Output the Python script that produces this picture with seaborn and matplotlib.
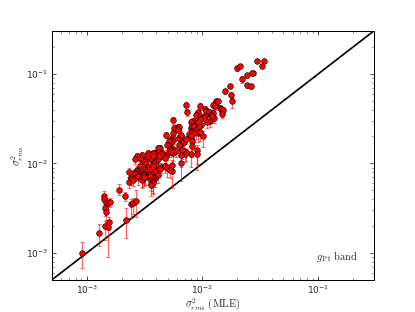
import numpy as np
import pandas as pd
import matplotlib
matplotlib.use('Agg')
import matplotlib.pyplot as plt
import seaborn as sns

# ------------------------------------------
# data (sigma^2_rms MLE vs sigma^2_rms)
# err_lo / err_hi are fractional (relative) error bars
# ------------------------------------------
# bright end
x_top = [0.0298, 0.034, 0.0329, 0.0272, 0.0266, 0.0244, 0.0197, 0.021, 0.0218, 0.0244,
         0.0263, 0.0172, 0.0155, 0.0177, 0.0181]
y_top = [0.139, 0.139, 0.123, 0.103, 0.102, 0.0967, 0.116, 0.121, 0.088, 0.0754,
         0.0736, 0.0736, 0.0647, 0.0574, 0.0493]
lo_top = [0.05, 0.05, 0.06, 0.05, 0.05, 0.06, 0.06, 0.05, 0.10, 0.08,
          0.08, 0.06, 0.07, 0.12, 0.15]
hi_top = [0.05, 0.05, 0.05, 0.05, 0.05, 0.05, 0.05, 0.05, 0.08, 0.06,
          0.06, 0.05, 0.06, 0.08, 0.08]

# main cloud
x_mid = [0.0072, 0.0074, 0.0095, 0.0091, 0.0088, 0.0095, 0.0105, 0.0108, 0.0113, 0.0123,
         0.0132, 0.0135, 0.0128, 0.0142, 0.0145, 0.0151, 0.0147, 0.0123, 0.0118, 0.0106,
         0.0099, 0.0103, 0.0115, 0.011, 0.0126, 0.012, 0.0097, 0.0082, 0.0079, 0.0080,
         0.0081, 0.0085, 0.0096, 0.0093, 0.0092, 0.0088, 0.0077, 0.0081, 0.0084, 0.0092,
         0.0095, 0.0101, 0.0079, 0.0081, 0.0081, 0.0090, 0.0089, 0.0079, 0.0072, 0.0071,
         0.0065, 0.0063, 0.0065, 0.0068, 0.0069, 0.0072, 0.0063, 0.0067, 0.0056, 0.0057,
         0.0061, 0.0063, 0.0062, 0.0065, 0.0056, 0.0055, 0.0057, 0.0054, 0.0054, 0.0056,
         0.0051, 0.0050, 0.0049, 0.0052, 0.0053, 0.0049, 0.0048, 0.0047, 0.0054, 0.0054,
         0.0065, 0.0065, 0.0059, 0.0048, 0.0043, 0.0041, 0.0041, 0.0041, 0.0045, 0.0044,
         0.0042, 0.0040, 0.0044, 0.0047, 0.0049, 0.0052, 0.0039, 0.0043, 0.0041, 0.0039,
         0.0037, 0.0036, 0.0038, 0.0037, 0.0037, 0.0036, 0.0034, 0.0035, 0.0035, 0.0037,
         0.0033, 0.0031, 0.0032, 0.0030, 0.0030, 0.0029, 0.0029, 0.0031, 0.0034, 0.0033,
         0.0035, 0.0037, 0.0029, 0.0031, 0.0031, 0.0032, 0.0034, 0.0035, 0.0036, 0.0037,
         0.0037, 0.0036, 0.0027, 0.0026, 0.0027, 0.0027, 0.0027, 0.0028, 0.0028, 0.0026,
         0.0025, 0.0024, 0.0023, 0.0024, 0.0023, 0.0025, 0.0028, 0.0030, 0.0030, 0.0031]
y_mid = [0.0449, 0.0372, 0.0434, 0.0372, 0.035, 0.0336, 0.0408, 0.039, 0.038, 0.0449,
         0.0493, 0.0493, 0.0434, 0.042, 0.041, 0.040, 0.036, 0.037, 0.035, 0.0336,
         0.0319, 0.032, 0.030, 0.029, 0.032, 0.034, 0.0271, 0.030, 0.0288, 0.0249,
         0.026, 0.026, 0.031, 0.026, 0.0288, 0.0234, 0.0215, 0.0225, 0.0219, 0.0219,
         0.0225, 0.0201, 0.0201, 0.0177, 0.0156, 0.0141, 0.0129, 0.0129, 0.0134, 0.0129,
         0.0201, 0.019, 0.017, 0.0175, 0.0172, 0.0185, 0.0161, 0.0141, 0.0303, 0.0249,
         0.0255, 0.0253, 0.0234, 0.021, 0.022, 0.0193, 0.0185, 0.0177, 0.0148, 0.0132,
         0.0177, 0.0161, 0.016, 0.0145, 0.0138, 0.0129, 0.0120, 0.0115, 0.0097, 0.0082,
         0.0102, 0.0123, 0.0138, 0.0210, 0.0148, 0.015, 0.0135, 0.0112, 0.0130, 0.0128,
         0.0120, 0.0097, 0.0092, 0.0093, 0.0088, 0.0085, 0.0082, 0.0087, 0.0075, 0.0068,
         0.0071, 0.0073, 0.013, 0.0131, 0.0107, 0.0112, 0.0130, 0.0125, 0.0116, 0.0120,
         0.0120, 0.0115, 0.0104, 0.0123, 0.0109, 0.0115, 0.0094, 0.0087, 0.0092, 0.0085,
         0.0087, 0.0094, 0.0085, 0.0077, 0.0074, 0.0071, 0.0071, 0.0072, 0.0065, 0.0063,
         0.0060, 0.0058, 0.0122, 0.0111, 0.0084, 0.0082, 0.0077, 0.0078, 0.0074, 0.0079,
         0.0076, 0.0070, 0.0080, 0.0067, 0.0062, 0.0066, 0.0072, 0.0068, 0.0066, 0.0070]
lo_mid = [0.10, 0.08, 0.10, 0.08, 0.10, 0.10, 0.10, 0.10, 0.12, 0.10,
          0.08, 0.08, 0.10, 0.10, 0.10, 0.10, 0.10, 0.12, 0.12, 0.12,
          0.12, 0.12, 0.15, 0.15, 0.12, 0.12, 0.15, 0.10, 0.12, 0.15,
          0.15, 0.15, 0.12, 0.15, 0.12, 0.20, 0.15, 0.15, 0.20, 0.20,
          0.20, 0.25, 0.15, 0.20, 0.25, 0.30, 0.35, 0.30, 0.20, 0.20,
          0.12, 0.12, 0.15, 0.15, 0.15, 0.12, 0.15, 0.20, 0.08, 0.10,
          0.12, 0.12, 0.12, 0.15, 0.12, 0.12, 0.12, 0.12, 0.15, 0.20,
          0.12, 0.12, 0.12, 0.15, 0.15, 0.15, 0.15, 0.15, 0.20, 0.35,
          0.38, 0.25, 0.15, 0.08, 0.12, 0.12, 0.12, 0.15, 0.12, 0.12,
          0.15, 0.15, 0.15, 0.15, 0.20, 0.20, 0.15, 0.15, 0.20, 0.20,
          0.20, 0.20, 0.12, 0.12, 0.15, 0.15, 0.12, 0.12, 0.15, 0.12,
          0.15, 0.15, 0.15, 0.12, 0.15, 0.15, 0.15, 0.20, 0.20, 0.20,
          0.20, 0.20, 0.15, 0.20, 0.20, 0.20, 0.20, 0.20, 0.25, 0.25,
          0.25, 0.25, 0.10, 0.12, 0.15, 0.15, 0.15, 0.15, 0.15, 0.15,
          0.15, 0.15, 0.12, 0.15, 0.15, 0.15, 0.20, 0.20, 0.20, 0.20]
hi_mid = [0.08, 0.06, 0.08, 0.06, 0.08, 0.08, 0.08, 0.08, 0.08, 0.08,
          0.06, 0.06, 0.08, 0.08, 0.08, 0.08, 0.08, 0.08, 0.08, 0.08,
          0.08, 0.08, 0.10, 0.10, 0.08, 0.08, 0.10, 0.08, 0.08, 0.10,
          0.10, 0.10, 0.08, 0.10, 0.08, 0.12, 0.10, 0.10, 0.12, 0.12,
          0.12, 0.15, 0.10, 0.12, 0.15, 0.15, 0.15, 0.15, 0.12, 0.12,
          0.08, 0.08, 0.10, 0.10, 0.10, 0.08, 0.10, 0.12, 0.08, 0.08,
          0.08, 0.08, 0.08, 0.10, 0.08, 0.08, 0.08, 0.08, 0.10, 0.12,
          0.08, 0.08, 0.08, 0.10, 0.10, 0.10, 0.10, 0.10, 0.12, 0.15,
          0.15, 0.12, 0.10, 0.08, 0.08, 0.08, 0.08, 0.10, 0.08, 0.08,
          0.10, 0.10, 0.10, 0.10, 0.12, 0.12, 0.10, 0.10, 0.12, 0.12,
          0.12, 0.12, 0.08, 0.08, 0.10, 0.10, 0.08, 0.08, 0.10, 0.08,
          0.10, 0.10, 0.10, 0.08, 0.10, 0.10, 0.10, 0.12, 0.12, 0.12,
          0.12, 0.12, 0.10, 0.12, 0.12, 0.12, 0.12, 0.12, 0.15, 0.15,
          0.15, 0.15, 0.08, 0.08, 0.10, 0.10, 0.10, 0.10, 0.10, 0.10,
          0.10, 0.10, 0.10, 0.10, 0.10, 0.10, 0.12, 0.12, 0.12, 0.12]

# faint end
x_low = [0.00091, 0.00127, 0.0014, 0.00142, 0.00143, 0.00146, 0.00144, 0.00153, 0.00155,
         0.00148, 0.00152, 0.00159, 0.0019, 0.00216, 0.00218, 0.00243, 0.00249, 0.00268]
y_low = [0.00099, 0.00165, 0.0043, 0.0040, 0.0032, 0.0029, 0.0020, 0.00195, 0.00223,
         0.0037, 0.0036, 0.0037, 0.0051, 0.0043, 0.00234, 0.0035, 0.0036, 0.00385]
lo_low = [0.32, 0.28, 0.15, 0.15, 0.20, 0.20, 0.30, 0.54, 0.20,
          0.15, 0.15, 0.12, 0.12, 0.12, 0.37, 0.30, 0.25, 0.35]
hi_low = [0.34, 0.28, 0.15, 0.15, 0.15, 0.15, 0.15, 0.12, 0.12,
          0.12, 0.12, 0.12, 0.15, 0.12, 0.35, 0.15, 0.15, 0.30]

LIMS = (5e-4, 0.3)

# ------------------------------------------
# build table
# ------------------------------------------
df = pd.DataFrame({
    'mle': x_top + x_mid + x_low,
    'rms': y_top + y_mid + y_low,
    'lo': lo_top + lo_mid + lo_low,
    'hi': hi_top + hi_mid + hi_low,
})
yerr = np.vstack([df['rms'] * df['lo'], df['rms'] * df['hi']])

# ------------------------------------------
# style (old matplotlib look: ticks in, all sides)
# ------------------------------------------
sns.set_style('ticks')
plt.rcParams.update({
    'font.family': ['DejaVu Sans'],
    'xtick.direction': 'in', 'ytick.direction': 'in',
    'xtick.top': True, 'ytick.right': True,
    'xtick.major.size': 4, 'ytick.major.size': 4,
    'xtick.minor.size': 2, 'ytick.minor.size': 2,
    'xtick.labelsize': 9, 'ytick.labelsize': 9,
    'axes.linewidth': 1.0,
})

fig = plt.figure(figsize=(415 / 72, 312 / 72), dpi=72)
ax = fig.add_axes([0.125, 0.103, 0.775, 0.797])

ax.errorbar(df['mle'], df['rms'], yerr=yerr, fmt='none',
            ecolor=(1, 0, 0, 0.6), elinewidth=1.2, capsize=2, capthick=0.9, zorder=2)
sns.scatterplot(data=df, x='mle', y='rms', ax=ax, color='red', edgecolor='black',
                linewidth=0.6, s=32, zorder=3, legend=False)

ax.axline((1e-3, 1e-3), (1e-1, 1e-1), color='black', lw=1.7, zorder=1)

ax.set_xscale('log')
ax.set_yscale('log')
ax.set_xlim(*LIMS)
ax.set_ylim(*LIMS)

ax.set_xlabel(r'$\sigma^2_{rms}\ \mathrm{(MLE)}$', fontsize=10.5, math_fontfamily='cm', labelpad=0)
ax.set_ylabel(r'$\sigma^2_{rms}$', fontsize=10.5, math_fontfamily='cm', labelpad=0)
ax.text(0.95, 0.065, r'$g_{\rm P1}\ \mathrm{band}$', transform=ax.transAxes,
        ha='right', va='bottom', fontsize=10.5, math_fontfamily='cm')

for side in ax.spines.values():
    side.set_visible(True)
    side.set_color('black')

fig.savefig('out.png', dpi=72)
